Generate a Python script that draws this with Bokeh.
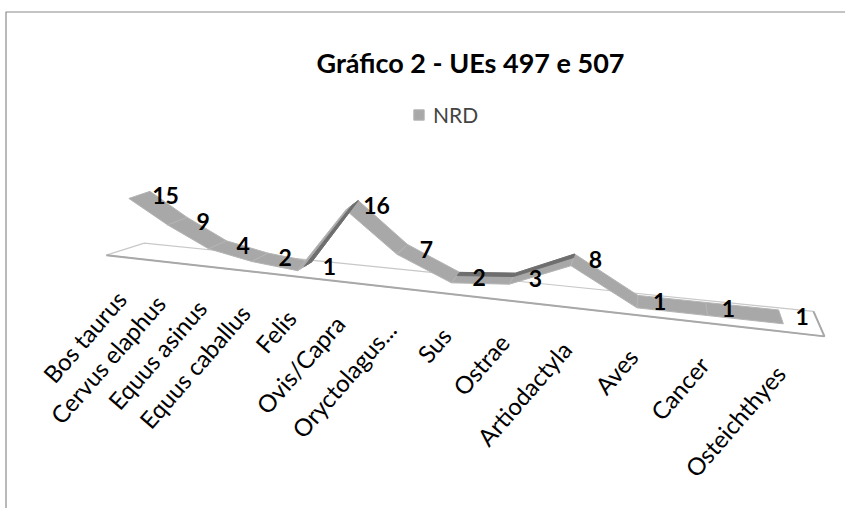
import numpy as np
from bokeh.plotting import figure
from bokeh.models import Range1d, Legend, LegendItem
from bokeh.core.properties import value
from bokeh.embed import file_html
from bokeh.resources import INLINE

# ---------------- data ----------------
title_text = "Gráfico 2 - UEs 497 e 507"
series_name = "NRD"
categories = ["Bos taurus", "Cervus elaphus", "Equus asinus", "Equus caballus",
              "Felis", "Ovis/Capra", "Oryctolagus...", "Sus", "Ostrae",
              "Artiodactyla", "Aves", "Cancer", "Osteichthyes"]
nrd = [15, 9, 4, 2, 1, 16, 7, 2, 3, 8, 1, 1, 1]

FONT = "Lato"

# ---------------- 3-D view (Excel style perspective line) ----------------
def proj(t, v, z):
    """category position t, value v, depth z (-1 back .. +1 front) -> page pixels"""
    t = np.asarray(t, float)
    v = np.asarray(v, float)
    z = np.asarray(z, float)
    w = 1 - 0.02549 * t
    X = (143 + 33.175 * t + z * (-18.32 + 1.765 * t)) / w
    Y = (250.6 - 2.42 * t - 3.84 * v + z * (6.19 + 0.185 * t)) / w
    return X, Y

W, H = 845, 508
p = figure(width=W, height=H, output_backend="svg", toolbar_location=None,
           x_range=Range1d(0, W), y_range=Range1d(H, 0),
           min_border=0, outline_line_color=None, background_fill_color="white",
           border_fill_color="white")
p.xaxis.visible = False
p.yaxis.visible = False
p.grid.visible = False

# chart area border (left and top edges visible)
p.line(x=[5.5, 5.5, W], y=[H, 11.5, 11.5], line_color="#8a8a8a", line_width=1.2)

n = len(categories)
t_idx = np.arange(n, dtype=float)
vals = np.array(nrd, dtype=float)

# floor
t0, t1 = -0.5, n - 0.5
fx, fy = proj([t0, t1, t1, t0], [0, 0, 0, 0], [-1, -1, 1, 1])
p.patch(x=list(fx), y=list(fy), fill_color="white", line_color="#c8c8c8", line_width=1.2)
ex, ey = proj([t0, t1, t1], [0, 0, 0], [1, 1, -1])
p.line(x=list(ex), y=list(ey), line_color="#a8a8a8", line_width=2)

# ribbon
zb, zf = -0.35, 0.8
xs, ys, dxs, dys = [], [], [], []
for i in range(n - 1):
    tt = [t_idx[i], t_idx[i + 1], t_idx[i + 1], t_idx[i]]
    vv = [vals[i], vals[i + 1], vals[i + 1], vals[i]]
    qx, qy = proj(tt, vv, [zb, zb, zf, zf])
    xs.append(list(qx)); ys.append(list(qy))
    rise = vals[i + 1] - vals[i]
    if rise > 0:
        zm = 0.25 if rise > 6 else 0.0
        rx, ry = proj(tt, vv, [zb, zb, zm, zm])
        dxs.append(list(rx)); dys.append(list(ry))
ribbon = p.patches(xs=xs, ys=ys, fill_color="#a8a8a8", line_color="#b4b4b4", line_width=1)
p.patches(xs=dxs, ys=dys, fill_color="#6e6e6e", line_color="#6e6e6e", line_width=1)

# data labels
lx, ly = proj(t_idx, vals, np.zeros(n))
p.text(x=lx + 22, y=ly + 2, text=[str(v) for v in nrd], text_align="center",
       text_baseline="middle", text_font=value(FONT), text_font_style="bold",
       text_font_size="23px", text_color="black")

# category labels
cx, cy = proj(t_idx, np.zeros(n), np.ones(n))
ax, ay = cx - 4, cy + 37
p.text(x=ax, y=ay, text=categories, angle=np.deg2rad(49),
       text_align="right", text_baseline="middle", text_font=value(FONT),
       text_font_size="24px", text_color="black")

# title
p.text(x=[470], y=[62], text=[title_text], text_align="center", text_baseline="middle",
       text_font=value(FONT), text_font_style="bold", text_font_size="27px",
       text_color="black")

# legend
legend = Legend(items=[LegendItem(label=series_name, renderers=[ribbon])],
                location=(412, 381), orientation="horizontal",
                border_line_alpha=0, background_fill_alpha=0,
                padding=0, margin=0, glyph_width=13, glyph_height=13,
                label_text_font=FONT, label_text_font_size="21px",
                label_standoff=8)
p.add_layout(legend, "center")

open("out.html", "w").write(file_html(p, INLINE))
